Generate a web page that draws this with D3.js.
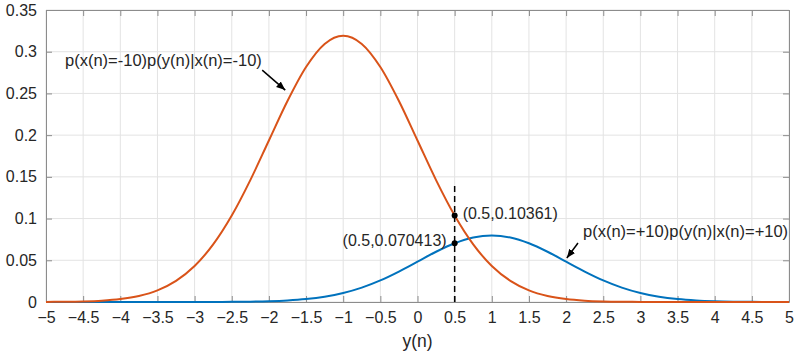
<!DOCTYPE html>
<html>
<head>
<meta charset="utf-8">
<script src="https://cdn.jsdelivr.net/npm/d3@7"></script>
<style>
  body { margin: 0; background: #fff; }
  svg text { font-family: "Liberation Sans", Arial, sans-serif; fill: #262626; }
</style>
</head>
<body>
<div id="chart"></div>
<script>
// Data
const xValues = d3.range(41).map(i => -5 + i * 0.25)
const redValues = [0.00011, 0.00028, 0.00070, 0.00162, 0.00355, 0.00727, 0.01402, 0.02539, 0.04319, 0.06902,
  0.10362, 0.14612, 0.19358, 0.24091, 0.28166, 0.30934, 0.31915, 0.30934, 0.28166, 0.24091,
  0.19358, 0.14612, 0.10362, 0.06902, 0.04319, 0.02539, 0.01402, 0.00727, 0.00355, 0.00162,
  0.00070, 0.00028, 0.00011, 0.00004, 0.00001, 0, 0, 0, 0, 0, 0]
const blueValues = [0, 0, 0, 0, 0, 0, 0, 0.00001, 0.00003, 0.00007,
  0.00017, 0.00041, 0.00089, 0.00182, 0.00351, 0.00635, 0.01080, 0.01726, 0.02590, 0.03653,
  0.04839, 0.06023, 0.07041, 0.07733, 0.07979, 0.07733, 0.07041, 0.06023, 0.04839, 0.03653,
  0.02590, 0.01726, 0.01080, 0.00635, 0.00351, 0.00182, 0.00089, 0.00041, 0.00017, 0.00007, 0.00003]
const xTicks = d3.range(21).map(i => -5 + i * 0.5)
const yTicks = d3.range(8).map(i => i * 0.05)
const markerX = 0.5
const markers = [
  { y: 0.10361, label: '(0.5,0.10361)' },
  { y: 0.070413, label: '(0.5,0.070413)' }
]
const dashTop = 0.143
const redLabel = 'p(x(n)=-10)p(y(n)|x(n)=-10)'
const blueLabel = 'p(x(n)=+10)p(y(n)|x(n)=+10)'

// Dimensions
const dims = { width: 809, height: 352, left: 46, right: 20, top: 10, bottom: 50 }
dims.ctrWidth = dims.width - dims.left - dims.right
dims.ctrHeight = dims.height - dims.top - dims.bottom

const svg = d3.select('#chart').append('svg')
  .attr('width', dims.width)
  .attr('height', dims.height)

svg.append('defs').append('marker')
  .attr('id', 'arrow')
  .attr('viewBox', '0 0 10 10')
  .attr('refX', 10).attr('refY', 5)
  .attr('markerWidth', 9).attr('markerHeight', 9)
  .attr('markerUnits', 'userSpaceOnUse')
  .attr('orient', 'auto')
  .append('path')
  .attr('d', 'M0,1 L10,5 L0,9 Z')
  .attr('fill', '#000')

const ctr = svg.append('g')
  .attr('transform', `translate(${dims.left},${dims.top})`)

// Scales
const xScale = d3.scaleLinear().domain([-5, 5]).range([0, dims.ctrWidth])
const yScale = d3.scaleLinear().domain([0, 0.35]).range([dims.ctrHeight, 0])

// Grid
ctr.append('g').selectAll('line')
  .data(xTicks)
  .join('line')
  .attr('x1', d => xScale(d)).attr('x2', d => xScale(d))
  .attr('y1', 0).attr('y2', dims.ctrHeight)
  .attr('stroke', '#e3e3e3')
ctr.append('g').selectAll('line')
  .data(yTicks)
  .join('line')
  .attr('y1', d => yScale(d)).attr('y2', d => yScale(d))
  .attr('x1', 0).attr('x2', dims.ctrWidth)
  .attr('stroke', '#e3e3e3')

// Axes
const xAxis = d3.axisBottom(xScale).tickValues(xTicks).tickSizeInner(-6).tickSizeOuter(0).tickPadding(10)
  .tickFormat(d3.format('~g'))
ctr.append('g')
  .attr('transform', `translate(0,${dims.ctrHeight})`)
  .call(xAxis)
const yAxis = d3.axisLeft(yScale).tickValues(yTicks).tickSizeInner(-6).tickSizeOuter(0).tickPadding(9)
  .tickFormat(d3.format('~g'))
ctr.append('g').call(yAxis)

const xTop = d3.axisTop(xScale).tickValues(xTicks).tickSizeInner(-6).tickSizeOuter(0).tickFormat('')
ctr.append('g').call(xTop)
const yRight = d3.axisRight(yScale).tickValues(yTicks).tickSizeInner(-6).tickSizeOuter(0).tickFormat('')
ctr.append('g').attr('transform', `translate(${dims.ctrWidth},0)`).call(yRight)

ctr.selectAll('.domain, .tick line').attr('stroke', '#8c8c8c')
ctr.selectAll('.tick text').style('font-size', '16px').attr('fill', '#262626')

ctr.append('text')
  .attr('x', dims.ctrWidth / 2)
  .attr('y', dims.ctrHeight + 45)
  .attr('text-anchor', 'middle')
  .style('font-size', '17.5px')
  .text('y(n)')

// Curves
const line = d3.line()
  .x((d, i) => xScale(xValues[i]))
  .y(d => yScale(d))
  .curve(d3.curveMonotoneX)

ctr.append('path')
  .datum(blueValues)
  .attr('d', line)
  .attr('fill', 'none')
  .attr('stroke', '#0072BD')
  .attr('stroke-width', 2)
ctr.append('path')
  .datum(redValues)
  .attr('d', line)
  .attr('fill', 'none')
  .attr('stroke', '#D95319')
  .attr('stroke-width', 2)

// Dashed marker line and points
ctr.append('line')
  .attr('x1', xScale(markerX)).attr('x2', xScale(markerX))
  .attr('y1', yScale(0)).attr('y2', yScale(dashTop))
  .attr('stroke', '#000')
  .attr('stroke-width', 1.5)
  .attr('stroke-dasharray', '6,4')

ctr.selectAll('circle.pt')
  .data(markers)
  .join('circle')
  .attr('class', 'pt')
  .attr('cx', xScale(markerX))
  .attr('cy', d => yScale(d.y))
  .attr('r', 3)
  .attr('fill', '#000')

ctr.append('text')
  .attr('x', xScale(markerX) + 8)
  .attr('y', yScale(markers[0].y) - 1)
  .attr('dominant-baseline', 'middle')
  .style('font-size', '16px')
  .text(markers[0].label)
ctr.append('text')
  .attr('x', xScale(markerX) - 8)
  .attr('y', yScale(markers[1].y) - 1)
  .attr('text-anchor', 'end')
  .attr('dominant-baseline', 'middle')
  .style('font-size', '16px')
  .text(markers[1].label)

// Annotations
ctr.append('text')
  .attr('x', 19)
  .attr('y', 52)
  .attr('dominant-baseline', 'middle')
  .style('font-size', '16.5px')
  .text(redLabel)
ctr.append('line')
  .attr('x1', xScale(-2.09)).attr('y1', yScale(0.278))
  .attr('x2', xScale(-1.78)).attr('y2', yScale(0.254))
  .attr('stroke', '#000').attr('stroke-width', 1.5)
  .attr('marker-end', 'url(#arrow)')

ctr.append('text')
  .attr('x', 537)
  .attr('y', 223)
  .attr('dominant-baseline', 'middle')
  .style('font-size', '16.5px')
  .text(blueLabel)
ctr.append('line')
  .attr('x1', xScale(2.16)).attr('y1', yScale(0.0707))
  .attr('x2', xScale(2.01)).attr('y2', yScale(0.0527))
  .attr('stroke', '#000').attr('stroke-width', 1.5)
  .attr('marker-end', 'url(#arrow)')
</script>
</body>
</html>
